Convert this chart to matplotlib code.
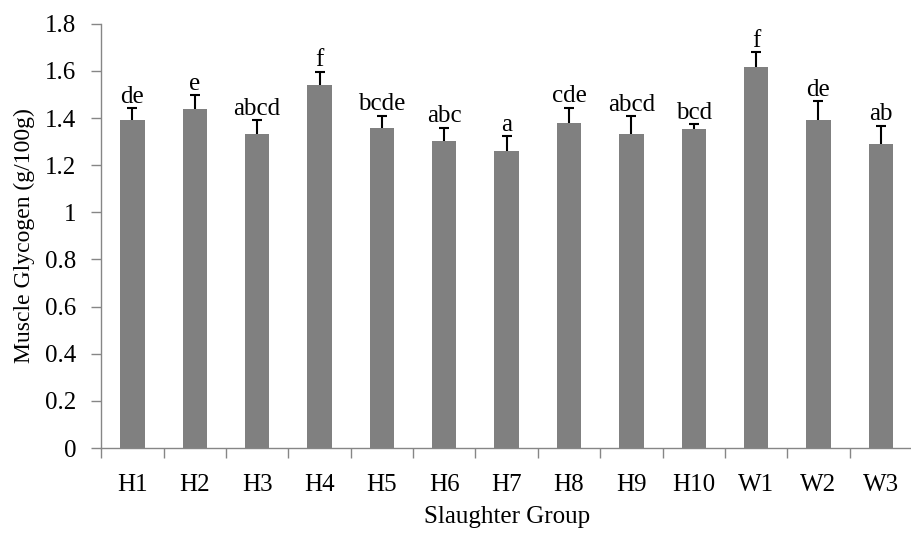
import matplotlib
matplotlib.use("Agg")
import matplotlib.pyplot as plt
import numpy as np

groups = ["H1", "H2", "H3", "H4", "H5", "H6", "H7", "H8", "H9", "H10", "W1", "W2", "W3"]
glycogen = [1.39, 1.44, 1.333, 1.541, 1.359, 1.302, 1.261, 1.377, 1.333, 1.353, 1.617, 1.393, 1.291]
err = [0.052, 0.056, 0.057, 0.056, 0.051, 0.057, 0.061, 0.067, 0.074, 0.020, 0.062, 0.079, 0.076]
letters = ["de", "e", "abcd", "f", "bcde", "abc", "a", "cde", "abcd", "bcd", "f", "de", "ab"]

plt.rcParams['font.family'] = ['Liberation Serif', 'DejaVu Serif']

fig = plt.figure(figsize=(9.12, 5.38), dpi=100)
ax = fig.add_axes([0.111, 0.167, 0.889, 0.789])

x = np.arange(len(groups))
tops = np.array(glycogen) + np.array(err)
ax.bar(x, glycogen, width=0.39, color='#808080', zorder=2)
# upper error bars only, with cap on top
ax.vlines(x, glycogen, tops, color='black', linewidth=1.5, zorder=3)
ax.plot(x, tops, ls='none', marker='_', ms=7, mew=1.5, color='black', zorder=3)
for xi, t, s in zip(x, tops, letters):
    ax.text(xi, t + 0.002, s, ha='center', va='bottom', fontsize=18)

ax.set_ylim(0, 1.8)
ax.set_xlim(-0.5, 12.44)
ax.set_yticks(np.arange(0, 1.81, 0.2))
ax.set_yticklabels(["0", "0.2", "0.4", "0.6", "0.8", "1", "1.2", "1.4", "1.6", "1.8"])
ax.set_xticks(x)
ax.set_xticklabels(groups)
ax.set_xticks(np.arange(-0.5, 12.6, 1), minor=True)
ax.tick_params(axis='x', which='major', length=0, pad=18.5, labelsize=18)
ax.tick_params(axis='x', which='minor', length=7, color='#868686', width=1)
ax.tick_params(axis='y', length=7, color='#868686', width=1, labelsize=18, pad=11)

for side in ['top', 'right']:
    ax.spines[side].set_visible(False)
for side in ['left', 'bottom']:
    ax.spines[side].set_color('#868686')
    ax.spines[side].set_linewidth(1)

ax.set_xlabel("Slaughter Group", fontsize=18, labelpad=7)
ax.set_ylabel("Muscle Glycogen (g/100g)", fontsize=17, labelpad=7)

fig.savefig("out.png", dpi=100)
